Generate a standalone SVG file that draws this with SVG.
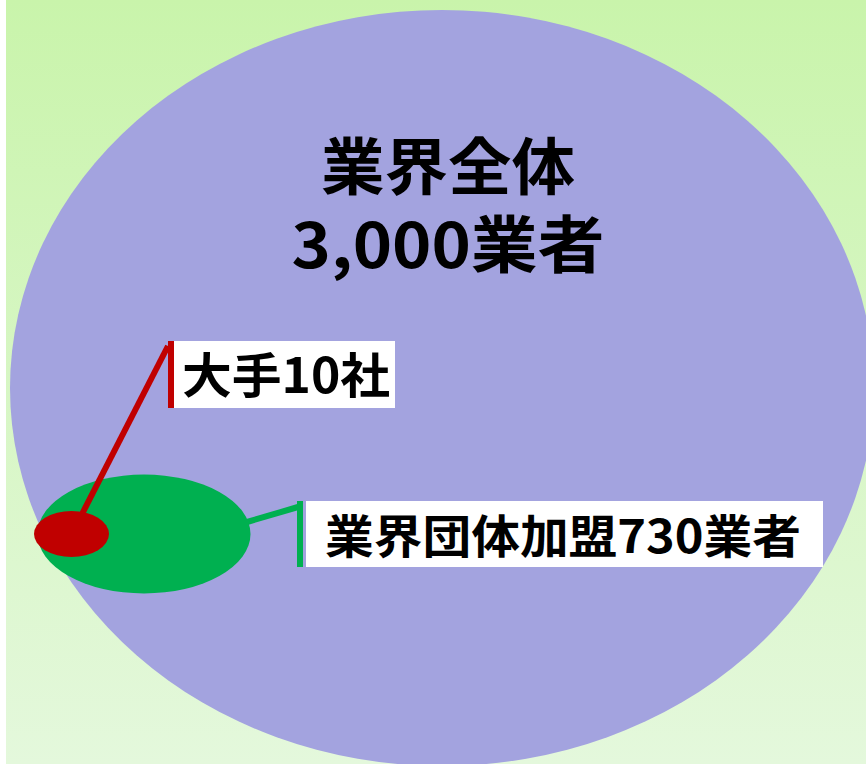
<svg xmlns="http://www.w3.org/2000/svg" width="866" height="764" viewBox="0 0 866 764">
<defs>
<linearGradient id="bg" x1="0" y1="0" x2="0" y2="1">
<stop offset="0" stop-color="#C9F4AB"/>
<stop offset="1" stop-color="#E4F8DC"/>
</linearGradient>
<style>
.t{font-family:"Noto Sans CJK JP","Noto Sans",sans-serif;font-weight:bold;fill:#000}
.lbl{fill:#FFFFFF}
</style>
</defs>
<rect x="0" y="0" width="866" height="764" fill="#FFFFFF"/>
<rect x="6" y="0" width="860" height="764" fill="url(#bg)"/>
<g id="all">
<ellipse cx="442" cy="388" rx="432" ry="378" fill="#A3A3DF"/>
<text class="t" x="448" y="190" font-size="62" text-anchor="middle" textLength="254" lengthAdjust="spacingAndGlyphs">業界全体</text>
<text class="t" x="448" y="268" font-size="62" text-anchor="middle" textLength="313" lengthAdjust="spacingAndGlyphs">3,000業者</text>
</g>
<g id="member">
<ellipse cx="144" cy="534" rx="106.5" ry="59.5" fill="#00B050"/>
</g>
<g id="major">
<ellipse cx="71.5" cy="534" rx="37.5" ry="23" fill="#C00000"/>
</g>
<g id="connectors">
<line x1="80" y1="518" x2="168" y2="346" stroke="#C00000" stroke-width="6"/>
<rect x="168" y="341" width="6" height="67" fill="#C00000"/>
<line x1="247" y1="522" x2="298" y2="507" stroke="#00B050" stroke-width="6"/>
<rect x="297" y="501" width="6" height="66" fill="#00B050"/>
</g>
<g id="label-major">
<rect class="lbl" x="174" y="341" width="221" height="67"/>
<text class="t" x="182" y="393" font-size="48" textLength="208" lengthAdjust="spacingAndGlyphs">大手10社</text>
</g>
<g id="label-member">
<rect class="lbl" x="306" y="501" width="517" height="66"/>
<text class="t" x="325" y="553" font-size="46" textLength="476" lengthAdjust="spacingAndGlyphs">業界団体加盟730業者</text>
</g>
</svg>
